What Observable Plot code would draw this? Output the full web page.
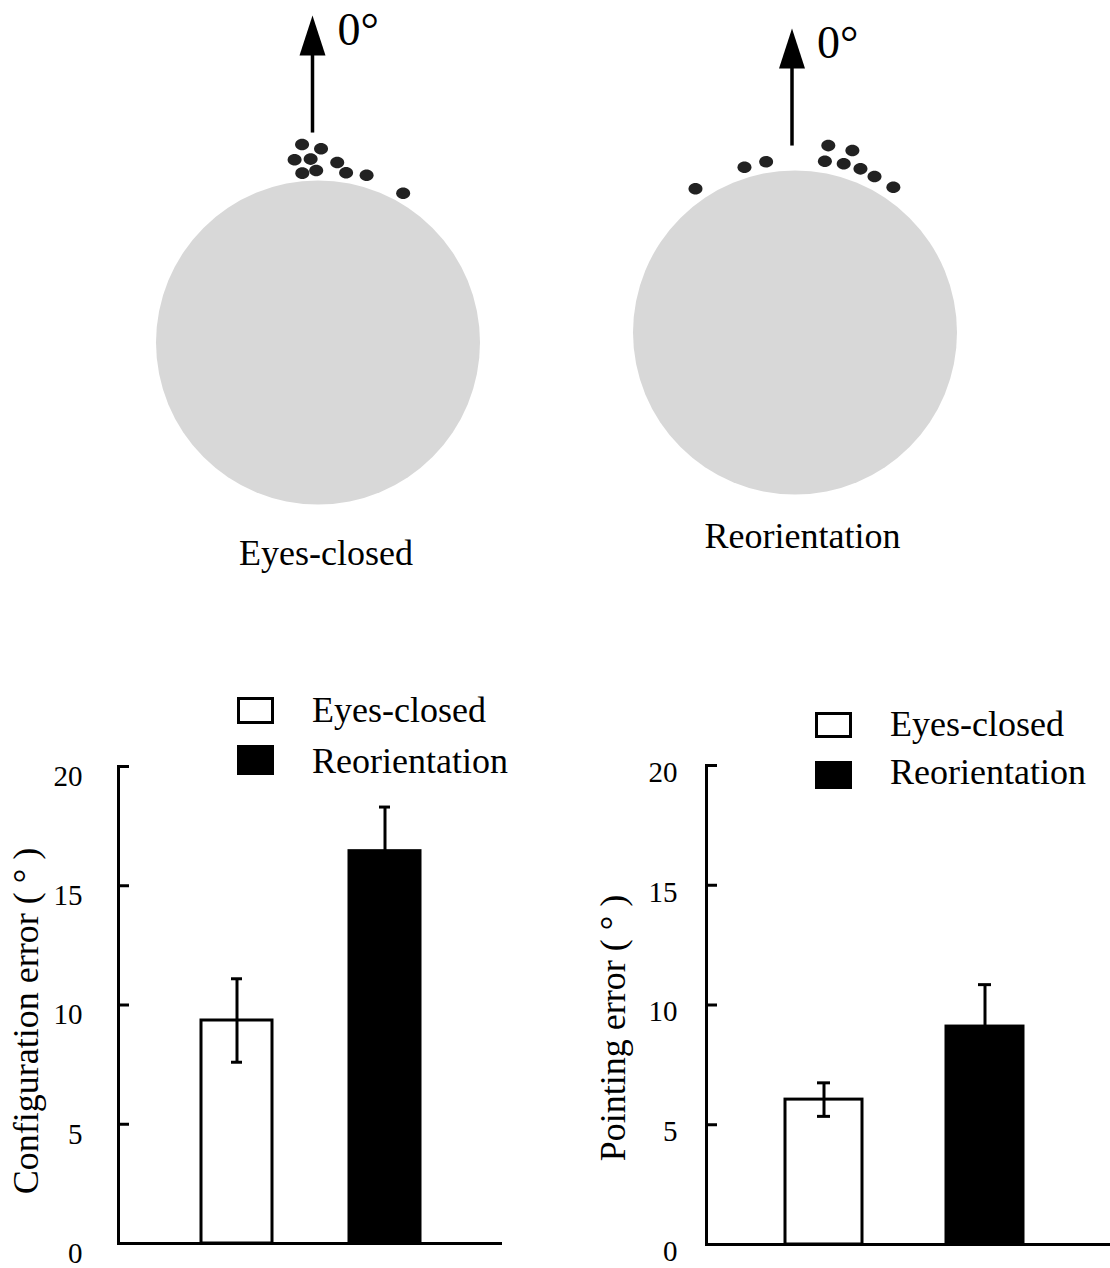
<!DOCTYPE html>
<html><head><meta charset="utf-8">
<script src="https://cdn.jsdelivr.net/npm/d3@7"></script>
<script src="https://cdn.jsdelivr.net/npm/@observablehq/plot@0.6"></script>
<style>
body{margin:0;background:#fff;}
#root{position:relative;width:1110px;height:1268px;font-family:"Liberation Serif","Times New Roman",serif;color:#000;overflow:hidden;background:#fff}
.cap{position:absolute;font-size:36px;line-height:36px;white-space:nowrap;text-align:center;width:400px}
.leg{position:absolute;font-size:36px;line-height:36px;white-space:nowrap}
.sw{position:absolute;box-sizing:border-box;border:3px solid #000}
</style></head><body><div id="root"></div>
<script>
// ---- data ----
const conditions = ["Eyes-closed", "Reorientation"];
const configurationError = [9.35, 16.45];
const configurationSE = [1.75, 1.85];
const pointingError = [6.05, 9.1];
const pointingSE = [0.7, 1.75];
const yTicks = [0, 5, 10, 15, 20];
// pointing responses: angle (deg, clockwise from 0°) and distance (circle radii)
const eyesClosedAngle = [-4.6, 0.9, -7.3, -2.3, 6.1, -5.3, -0.6, 9.4, 16.2, 29.7];
const eyesClosedRadius = [1.226, 1.196, 1.137, 1.133, 1.117, 1.050, 1.062, 1.062, 1.075, 1.061];
const reorientationAngle = [-34.7, -17.0, -9.6, 10.1, 17.5, 9.9, 16.1, 21.8, 27.0, 34.1];
const reorientationRadius = [1.079, 1.067, 1.069, 1.172, 1.178, 1.073, 1.084, 1.088, 1.081, 1.083];
const headingLabel = "0°";
const yTitles = ["Configuration error ( ° )", "Pointing error ( ° )"];

const FONT = "'Liberation Serif','Times New Roman',serif";
const root = document.getElementById("root");

const ellipse = {draw(ctx) {
  const rx = 7, ry = 5.8, k = 0.5523;
  ctx.moveTo(rx, 0);
  ctx.bezierCurveTo(rx, ry * k, rx * k, ry, 0, ry);
  ctx.bezierCurveTo(-rx * k, ry, -rx, ry * k, -rx, 0);
  ctx.bezierCurveTo(-rx, -ry * k, -rx * k, -ry, 0, -ry);
  ctx.bezierCurveTo(rx * k, -ry, rx, -ry * k, rx, 0);
  ctx.closePath();
}};
const arrowHead = {draw(ctx) {
  ctx.moveTo(0, 0); ctx.lineTo(-13, 40); ctx.lineTo(13, 40); ctx.closePath();
}};

function place(el, left, top) {
  el.style.position = "absolute";
  el.style.left = left + "px";
  el.style.top = top + "px";
  root.appendChild(el);
}

function compass({left, top, width, height, cx, cy, R, angles, radii, arrowStart, arrowTip, arrowDx}) {
  const toXY = (a, r) => ({x: r * Math.sin(a * Math.PI / 180), y: r * Math.cos(a * Math.PI / 180)});
  const pts = angles.map((a, i) => toXY(a, radii[i]));
  const shaft = [{x1: 0, y1: arrowStart, x2: 0, y2: arrowTip - 25 / R}];
  const tip = [{x: 0, y: arrowTip}];
  const svg = Plot.plot({
    width, height, margin: 0,
    x: {domain: [-cx / R, (width - cx) / R], axis: null},
    y: {domain: [-(height - cy) / R, cy / R], axis: null},
    style: {fontFamily: FONT, background: "transparent", overflow: "visible", color: "#000"},
    marks: [
      Plot.dot([{x: 0, y: 0}], {x: "x", y: "y", r: R, fill: "#d8d8d8"}),
      Plot.dot(pts, {x: "x", y: "y", symbol: ellipse, r: 6, fill: "#222"}),
      Plot.link(shaft, {x1: "x1", y1: "y1", x2: "x2", y2: "y2", stroke: "#000", strokeWidth: 3.5, dx: arrowDx}),
      Plot.dot(tip, {x: "x", y: "y", symbol: arrowHead, r: 10, fill: "#000", dx: arrowDx}),
      Plot.text(tip, {x: "x", y: "y", text: () => headingLabel, textAnchor: "start", fontSize: 46, dx: arrowDx + 25, dy: 15, fill: "#000"})
    ]
  });
  place(svg, left, top);
}

function bars({left, top, width, height, marginLeft, marginRight, marginTop, marginBottom, xRange,
               paddingInner, paddingOuter, values, se, title, titleDx, titleDy, tickPadding, tickDy, capInset}) {
  const data = conditions.map((c, i) => ({condition: c, value: values[i], lo: values[i] - se[i], hi: values[i] + se[i]}));
  const fw = width - marginLeft - marginRight;
  const svg = Plot.plot({
    width, height, marginLeft, marginRight, marginTop, marginBottom,
    x: {type: "band", domain: conditions, range: xRange, paddingInner, paddingOuter, axis: null},
    y: {domain: [0, 20], axis: null},
    color: {domain: conditions, range: ["#fff", "#000"]},
    style: {fontFamily: FONT, fontSize: "28px", background: "transparent", overflow: "visible", color: "#000"},
    marks: [
      Plot.barY(data, {x: "condition", y: "value", fill: "condition", stroke: "#000", strokeWidth: 3}),
      Plot.ruleX(data, {x: "condition", y1: "lo", y2: "hi", stroke: "#000", strokeWidth: 3}),
      Plot.tickY(data, {x: "condition", y: "hi", stroke: "#000", strokeWidth: 3, insetLeft: capInset, insetRight: capInset}),
      Plot.tickY(data, {x: "condition", y: "lo", stroke: "#000", strokeWidth: 3, insetLeft: capInset, insetRight: capInset}),
      Plot.ruleY([0], {stroke: "#000", strokeWidth: 3}),
      Plot.frame({anchor: "left", stroke: "#000", strokeWidth: 3}),
      Plot.ruleY(yTicks.slice(1), {stroke: "#000", strokeWidth: 3, insetRight: fw - 11}),
      Plot.axisY({ticks: yTicks, tickSize: 0, tickPadding, dy: tickDy, fontSize: 29, label: null, fill: "#000"}),
      Plot.text([title], {frameAnchor: "left", textAnchor: "middle", rotate: -90, dx: titleDx, dy: titleDy, fontSize: 36, fill: "#000"})
    ]
  });
  place(svg, left, top);
}

function caption(text, centerX, top) {
  const d = document.createElement("div");
  d.className = "cap"; d.textContent = text;
  d.style.left = (centerX - 200) + "px"; d.style.top = top + "px";
  root.appendChild(d);
}
function legendRow(text, boxLeft, boxTop, boxW, boxH, filled, textLeft, textTop) {
  const b = document.createElement("div");
  b.className = "sw";
  Object.assign(b.style, {left: boxLeft + "px", top: boxTop + "px", width: boxW + "px", height: boxH + "px", background: filled ? "#000" : "#fff"});
  root.appendChild(b);
  const t = document.createElement("div");
  t.className = "leg"; t.textContent = text;
  t.style.left = textLeft + "px"; t.style.top = textTop + "px";
  root.appendChild(t);
}

// ---- top: pointing responses ----
compass({left: 0, top: 0, width: 560, height: 520, cx: 317.5, cy: 342, R: 162,
  angles: eyesClosedAngle, radii: eyesClosedRadius, arrowStart: 1.296, arrowTip: 2.019, arrowDx: -5.5});
compass({left: 560, top: 0, width: 550, height: 520, cx: 234.5, cy: 332, R: 162,
  angles: reorientationAngle, radii: reorientationRadius, arrowStart: 1.154, arrowTip: 1.877, arrowDx: -3});
caption(conditions[0], 326, 535);
caption(conditions[1], 802.5, 518);

// ---- bottom: error bar charts ----
bars({left: 0, top: 690, width: 560, height: 578, marginLeft: 118, marginRight: 58, marginTop: 76, marginBottom: 25,
  xRange: [118, 502], paddingInner: 0.522, paddingOuter: 0.554,
  values: configurationError, se: configurationSE, title: yTitles[0], titleDx: -92, titleDy: 16,
  tickPadding: 36, tickDy: 10, capInset: 30});
bars({left: 570, top: 690, width: 540, height: 578, marginLeft: 136, marginRight: 0, marginTop: 75, marginBottom: 24,
  xRange: [136, 532.5], paddingInner: 0.52, paddingOuter: 0.4875,
  values: pointingError, se: pointingSE, title: yTitles[1], titleDx: -93, titleDy: 23,
  tickPadding: 29, tickDy: 7, capInset: 32});

legendRow(conditions[0], 237, 697, 37, 27, false, 312, 692);
legendRow(conditions[1], 237, 745, 37, 30, true, 312, 743);
legendRow(conditions[0], 815, 712, 37, 26, false, 890, 706);
legendRow(conditions[1], 815, 761, 37, 28, true, 890, 754);
</script></body></html>
